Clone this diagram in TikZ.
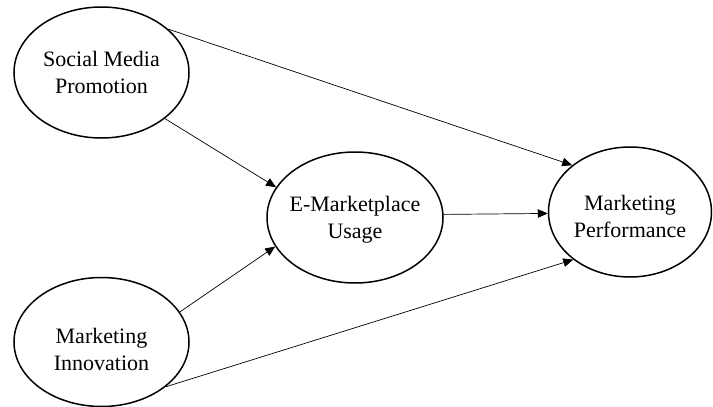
\documentclass[tikz,border=0pt]{standalone}
\usepackage{fontspec}
\setmainfont{Liberation Serif}
\usetikzlibrary{shapes.geometric,arrows.meta}
\begin{document}
\begin{tikzpicture}[x=1pt,y=-1pt,
  var/.style={draw,ellipse,line width=1.5pt,inner sep=0pt},
  lab/.style={align=center,inner sep=0pt,font=\fontsize{22}{27}\selectfont},
  arr/.style={draw,line width=0.7pt,-{Triangle[length=10pt,width=8.5pt]}}]
\useasboundingbox (0,0) rectangle (713,407);
\node[var,minimum width=175pt,minimum height=131pt,
  label={[lab]center:Social Media\\Promotion}] (smp) at (101.5,72.5) {};
\node[var,minimum width=175pt,minimum height=129pt,
  label={[lab,yshift=-7pt]center:Marketing\\Innovation}] (mi) at (101.5,342) {};
\node[var,minimum width=176pt,minimum height=131pt,
  label={[lab,yshift=-2.5pt]center:E-Marketplace\\Usage}] (emu) at (355,217.5) {};
\node[var,minimum width=163pt,minimum height=130pt,
  label={[lab,yshift=-4pt]center:Marketing\\Performance}] (mp) at (630,212) {};
\draw[arr] (smp.-36.9) -- (emu.159.9);
\draw[arr] (mi.21.9) -- (emu.200.7);
\draw[arr] (smp.33.8) -- (mp.141.7);
\draw[arr] (mi.-35.5) -- (mp.220);
\draw[arr] (emu.2.3) -- (mp.181.4);
\end{tikzpicture}
\end{document}
